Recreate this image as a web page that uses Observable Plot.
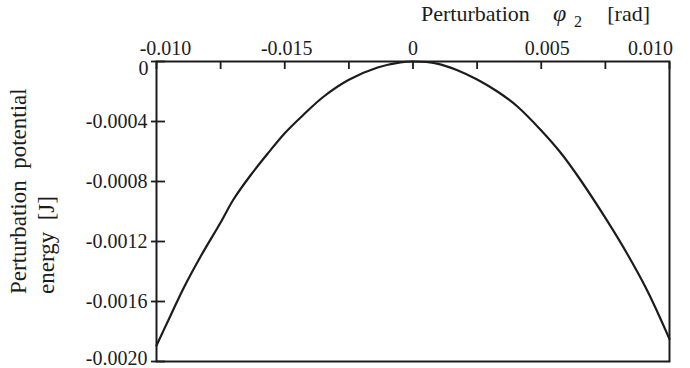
<!DOCTYPE html>
<html>
<head>
<meta charset="utf-8">
<script src="https://cdn.jsdelivr.net/npm/d3@7"></script>
<script src="https://cdn.jsdelivr.net/npm/@observablehq/plot@0.6"></script>
<style>
  html, body { margin: 0; padding: 0; background: #fff; }
  #chart svg { display: block; }
</style>
</head>
<body>
<div id="chart"></div>
<script>
// Perturbation angle φ2 [rad]
const phi = [-0.0100, -0.00945, -0.00895, -0.00828, -0.0075, -0.0070, -0.00634, -0.00567, -0.0050, -0.00427,
             -0.00349, -0.0025, -0.00138, -0.00049, 0.0000, 0.00094, 0.00173, 0.0025, 0.00329, 0.00407,
             0.0050, 0.00575, 0.00653, 0.0075, 0.00836, 0.00914, 0.0100];
// Perturbation potential energy [J]
const energy = [-0.001893, -0.001693, -0.001513, -0.001300, -0.001073, -0.000920, -0.000760, -0.000615, -0.000478, -0.000355,
                -0.000235, -0.000122, -0.000040, -0.000006, 0.000000, -0.000014, -0.000058, -0.000120, -0.000200, -0.000300,
                -0.000460, -0.000607, -0.000790, -0.001043, -0.001285, -0.001530, -0.001850];

// x axis (top): tick positions and labels as printed in the original
const xTickValues = [-0.01, -0.0075, -0.005, -0.0025, 0, 0.0025, 0.005, 0.0075, 0.01];
const xLabelValues = [-0.01, -0.005, 0, 0.005, 0.01];
const xLabels = ["-0.010", "-0.015", "0", "0.005", "0.010"];
// y axis
const yTickValues = [0, -0.0004, -0.0008, -0.0012, -0.0016, -0.002];
const yLabels = ["0", "-0.0004", "-0.0008", "-0.0012", "-0.0016", "-0.0020"];

const xTitle = ["Perturbation", "φ", "2", "[rad]"];
const yTitle = ["Perturbation  potential", "energy  [J]"];

const curve = phi.map((p, i) => ({phi: p, energy: energy[i]}));
const xl = xLabelValues.map((v, i) => ({v, t: xLabels[i]}));
const yl = yTickValues.map((v, i) => ({v, t: yLabels[i]}));

const ink = "#1c1c1c";
const serifCss = "'Liberation Serif'";
const tickFont = {fontSize: 20, fill: ink};

const plot = Plot.plot({
  width: 690,
  height: 368,
  marginLeft: 156,
  marginRight: 21,
  marginTop: 61,
  marginBottom: 7,
  style: {background: "#fff", color: ink},
  x: {domain: [-0.01, 0.01], axis: null},
  y: {domain: [-0.002, 0], axis: null},
  marks: [
    Plot.axisX(xTickValues, {anchor: "top", tickSize: 7, dy: 7, tickFormat: () => "", stroke: ink, strokeWidth: 1.8, label: null}),
    Plot.axisY(yTickValues, {anchor: "left", tickSize: 14, dx: 9, tickFormat: () => "", stroke: ink, strokeWidth: 1.8, label: null}),
    Plot.text(xl.slice(1, 2), {x: "v", text: "t", frameAnchor: "top", lineAnchor: "bottom", dy: -7, dx: 2, ...tickFont}),
    Plot.text(xl.slice(2, 3), {x: "v", text: "t", frameAnchor: "top", lineAnchor: "bottom", dy: -7, ...tickFont}),
    Plot.text(xl.slice(3, 4), {x: "v", text: "t", frameAnchor: "top", lineAnchor: "bottom", dy: -7, dx: 6, ...tickFont}),
    Plot.text(xl.slice(0, 1), {x: "v", text: "t", frameAnchor: "top", lineAnchor: "bottom", dy: -7, dx: 9, ...tickFont}),
    Plot.text(xl.slice(4), {x: "v", text: "t", frameAnchor: "top", lineAnchor: "bottom", dy: -7, dx: -19, ...tickFont}),
    Plot.text(yl.slice(1, 5), {y: "v", text: "t", frameAnchor: "left", textAnchor: "end", dx: -9, ...tickFont}),
    Plot.text(yl.slice(0, 1), {y: "v", text: "t", frameAnchor: "left", textAnchor: "end", dx: -8, dy: 7, ...tickFont}),
    Plot.text(yl.slice(5), {y: "v", text: "t", frameAnchor: "left", textAnchor: "end", dx: -9, dy: -3, ...tickFont}),
    Plot.line(curve, {x: "phi", y: "energy", stroke: ink, strokeWidth: 2.2, curve: "catmull-rom"}),
    Plot.frame({stroke: ink, strokeWidth: 2})
  ]
});

document.getElementById("chart").appendChild(plot);
const svg = d3.select(plot);

// serif face on every label (inline style)
svg.selectAll("text").style("font-family", serifCss);

function addText(x, y, str, size, opts = {}) {
  const t = svg.append("text")
    .attr("x", x).attr("y", y)
    .attr("fill", ink)
    .attr("text-anchor", opts.anchor || "start")
    .style("font-family", serifCss)
    .style("font-size", size + "px")
    .text(str);
  if (opts.italic) t.style("font-style", "italic");
  if (opts.transform) t.attr("transform", opts.transform).attr("x", 0).attr("y", 0);
  return t;
}

// x axis title: Perturbation φ2 [rad]
addText(421, 21, xTitle[0], 22);
addText(553, 21, xTitle[1], 24, {italic: true});
addText(574, 27, xTitle[2], 16);
addText(650, 21, xTitle[3], 22, {anchor: "end"});

// y axis title, two lines, rotated
yTitle.forEach((line, i) => {
  addText(0, 0, line, 23, {transform: `translate(${26 + i * 28},294) rotate(-90)`});
});
</script>
</body>
</html>
